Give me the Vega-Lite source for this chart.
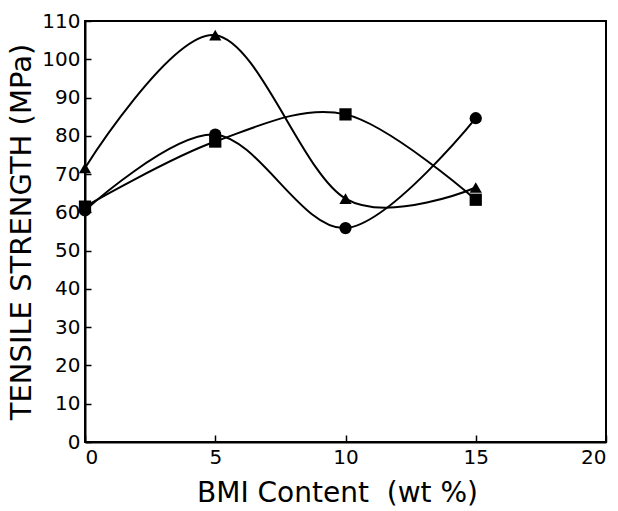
{
  "$schema": "https://vega.github.io/schema/vega-lite/v6.json",
  "autosize": {"type": "none"},
  "padding": {"left": 85, "top": 21, "right": 12, "bottom": 69},
  "width": 521,
  "height": 421,
  "background": "white",
  "config": {
    "view": {"stroke": "black", "strokeWidth": 2},
    "font": "DejaVu Sans",
    "axis": {
      "domainColor": "black", "domainWidth": 2, "tickColor": "black", "tickWidth": 1.5,
      "labelColor": "black", "titleColor": "black", "grid": false,
      "labelFont": "DejaVu Sans", "titleFont": "DejaVu Sans", "labelFontWeight": "normal", "titleFontWeight": "normal"
    }
  },
  "data": {"values": [
    {"bmi": 0, "strength": 71.6, "series": "A"},
    {"bmi": 5, "strength": 106.3, "series": "A"},
    {"bmi": 10, "strength": 63.6, "series": "A"},
    {"bmi": 15, "strength": 66.5, "series": "A"},
    {"bmi": 0, "strength": 61.5, "series": "B"},
    {"bmi": 5, "strength": 78.5, "series": "B"},
    {"bmi": 10, "strength": 85.6, "series": "B"},
    {"bmi": 15, "strength": 63.3, "series": "B"},
    {"bmi": 0, "strength": 60.5, "series": "C"},
    {"bmi": 5, "strength": 80.3, "series": "C"},
    {"bmi": 10, "strength": 55.9, "series": "C"},
    {"bmi": 15, "strength": 84.6, "series": "C"}
  ]},
  "encoding": {
    "x": {"field": "bmi", "type": "quantitative",
      "scale": {"domain": [0, 20], "nice": false, "zero": false},
      "axis": {"values": [0, 5, 10, 15, 20], "tickSize": -7, "labelFontSize": 20, "labelPadding": 12,
        "title": "BMI Content \u00a0(wt %)", "titleFontSize": 28, "titlePadding": 12, "titleX": 252}},
    "y": {"field": "strength", "type": "quantitative",
      "scale": {"domain": [0, 110], "nice": false},
      "axis": {"values": [0,10,20,30,40,50,60,70,80,90,100,110], "tickSize": -6, "labelFontSize": 20, "labelPadding": 11,
        "title": "TENSILE STRENGTH (MPa)", "titleFontSize": 29, "titlePadding": 5}}
  },
  "layer": [
    {"mark": {"type": "line", "interpolate": "cardinal", "color": "black", "strokeWidth": 2},
     "encoding": {"detail": {"field": "series"}}},
    {"mark": {"type": "point", "filled": true, "color": "black", "opacity": 1},
     "encoding": {
       "shape": {"field": "series", "type": "nominal", "scale": {"domain": ["A", "B", "C"], "range": ["triangle-up", "square", "circle"]}, "legend": null},
       "size": {"value": 150}
     }}
  ]
}
